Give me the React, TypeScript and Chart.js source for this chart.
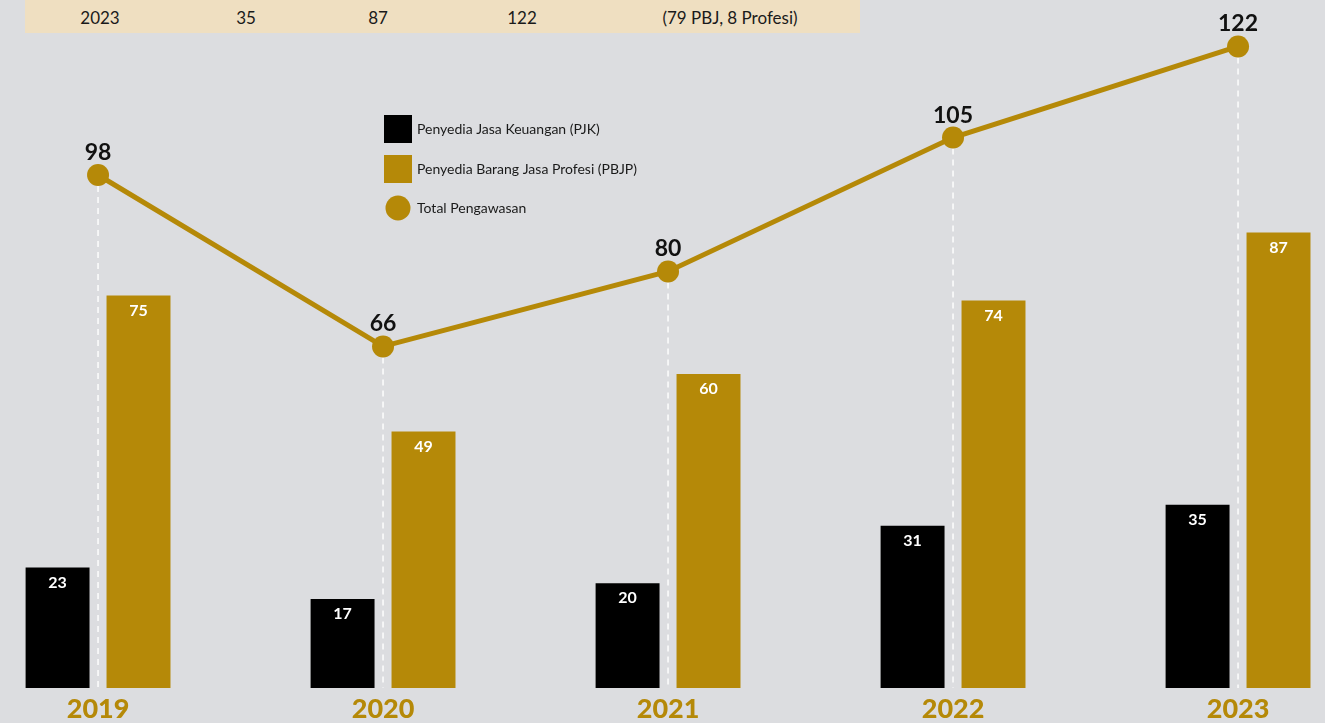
import React, { useEffect, useRef } from 'react';
import { Chart, registerables } from 'chart.js';

Chart.register(...registerables);

const years = ['2019', '2020', '2021', '2022', '2023'];
const pjkValues = [23, 17, 20, 31, 35];
const pbjpValues = [75, 49, 60, 74, 87];
const totalValues = [98, 66, 80, 105, 122];
const tableRow = ['2023', '35', '87', '122', '(79 PBJ, 8 Profesi)'];
const seriesLabels = ['Penyedia Jasa Keuangan (PJK)', 'Penyedia Barang Jasa Profesi (PBJP)', 'Total Pengawasan'];

const GOLD = '#b58908';
const BLACK = '#000000';
const BG = '#dcdde0';
const FONT = 'Lato, "Open Sans", sans-serif';

const dashPlugin = {
  id: 'dashes',
  beforeDatasetsDraw(chart: any) {
    const ctx = chart.ctx;
    const meta = chart.getDatasetMeta(2);
    const bottom = chart.chartArea.bottom;
    ctx.save();
    ctx.strokeStyle = 'rgba(255,255,255,0.95)';
    ctx.lineWidth = 1.5;
    ctx.setLineDash([6, 5]);
    meta.data.forEach((p: any) => {
      ctx.beginPath();
      ctx.moveTo(p.x, p.y + 11);
      ctx.lineTo(p.x, bottom);
      ctx.stroke();
    });
    ctx.restore();
  },
};

const labelPlugin = {
  id: 'valueLabels',
  afterDatasetsDraw(chart: any) {
    const ctx = chart.ctx;
    ctx.save();
    ctx.textAlign = 'center';
    ctx.textBaseline = 'middle';
    [0, 1].forEach((di) => {
      const meta = chart.getDatasetMeta(di);
      const vals = chart.data.datasets[di].data;
      meta.data.forEach((bar: any, i: number) => {
        ctx.fillStyle = '#ffffff';
        ctx.font = `bold 16px ${FONT}`;
        ctx.fillText(String(vals[i].y), bar.x, bar.y + 15);
      });
    });
    const lm = chart.getDatasetMeta(2);
    const lv = chart.data.datasets[2].data;
    lm.data.forEach((p: any, i: number) => {
      ctx.fillStyle = '#111111';
      ctx.font = `bold 23px ${FONT}`;
      ctx.textBaseline = 'alphabetic';
      ctx.fillText(String(lv[i].y), p.x, p.y - 15);
    });
    ctx.restore();
  },
};

const legendPlugin = {
  id: 'customLegend',
  afterDraw(chart: any) {
    const ctx = chart.ctx;
    const x = 384;
    const rows = [129, 169, 208];
    ctx.save();
    chart.data.datasets.forEach((ds: any, i: number) => {
      const cy = rows[i];
      ctx.fillStyle = ds.type === 'line' ? ds.pointBackgroundColor : ds.backgroundColor;
      if (ds.type === 'line') {
        ctx.beginPath();
        ctx.arc(x + 14, cy, 12.5, 0, Math.PI * 2);
        ctx.fill();
      } else {
        ctx.fillRect(x, cy - 14, 28, 28);
      }
      ctx.fillStyle = '#1a1a1a';
      ctx.font = `14px ${FONT}`;
      ctx.textAlign = 'left';
      ctx.textBaseline = 'middle';
      ctx.fillText(ds.label, x + 33, cy);
    });
    ctx.restore();
  },
};

export default function App() {
  const canvasRef = useRef<HTMLCanvasElement | null>(null);

  useEffect(() => {
    document.body.style.margin = '0';
    document.body.style.background = BG;
    const canvas = canvasRef.current;
    if (!canvas) return;
    const xMin = -0.344;
    const xMax = xMin + 1325 / 285;
    const chart = new Chart(canvas, {
      type: 'bar',
      data: {
        datasets: [
          {
            type: 'bar',
            label: seriesLabels[0],
            data: pjkValues.map((v, i) => ({ x: i, y: v })),
            backgroundColor: BLACK,
            categoryPercentage: 0.568,
            barPercentage: 0.79,
            yAxisID: 'y',
            order: 1,
          } as any,
          {
            type: 'bar',
            label: seriesLabels[1],
            data: pbjpValues.map((v, i) => ({ x: i, y: v })),
            backgroundColor: GOLD,
            categoryPercentage: 0.568,
            barPercentage: 0.79,
            yAxisID: 'y',
            order: 1,
          } as any,
          {
            type: 'line',
            label: seriesLabels[2],
            data: totalValues.map((v, i) => ({ x: i, y: v })),
            borderColor: GOLD,
            borderWidth: 5,
            pointRadius: 11,
            pointHoverRadius: 11,
            pointBackgroundColor: GOLD,
            pointBorderWidth: 0,
            tension: 0,
            yAxisID: 'y1',
            order: 0,
          } as any,
        ],
      },
      options: {
        animation: false,
        responsive: false,
        maintainAspectRatio: false,
        layout: { padding: 0, autoPadding: false },
        plugins: {
          legend: { display: false },
          tooltip: { enabled: false },
        },
        scales: {
          x: {
            type: 'linear',
            min: xMin,
            max: xMax,
            offset: false,
            grid: { display: false, drawTicks: false },
            border: { display: false },
            afterBuildTicks: (scale: any) => {
              scale.ticks = years.map((_, i) => ({ value: i }));
            },
            afterFit: (scale: any) => {
              scale.height = 35;
              scale.paddingLeft = 0;
              scale.paddingRight = 0;
            },
            ticks: {
              autoSkip: false,
              maxRotation: 0,
              padding: 5,
              color: GOLD,
              font: { family: FONT, size: 27, weight: '900' },
              callback: (v: any) => years[Math.round(v)] ?? '',
            },
          },
          y: {
            type: 'linear',
            display: false,
            min: 0,
            max: 688 / 5.235,
          },
          y1: {
            type: 'linear',
            display: false,
            min: 2.24,
            max: 2.24 + 688 / 5.357,
          },
        },
      } as any,
      plugins: [dashPlugin, labelPlugin, legendPlugin],
    });
    return () => chart.destroy();
  }, []);

  const tableX = [100, 246, 378, 522, 730];

  return (
    <div style={{ position: 'relative', width: 1325, height: 723, background: BG, overflow: 'hidden' }}>
      <canvas ref={canvasRef} width={1325} height={723} style={{ position: 'absolute', left: 0, top: 0, width: 1325, height: 723 }} />
      <div style={{ position: 'absolute', left: 25, top: 0, width: 835, height: 33, background: '#efdfc1' }}>
        {tableRow.map((t, i) => (
          <span
            key={i}
            style={{
              position: 'absolute',
              left: tableX[i] - 25,
              top: 17,
              transform: 'translate(-50%, -50%)',
              whiteSpace: 'nowrap',
              fontFamily: FONT,
              fontSize: 17,
              color: '#1a1a1a',
            }}
          >
            {t}
          </span>
        ))}
      </div>
    </div>
  );
}
